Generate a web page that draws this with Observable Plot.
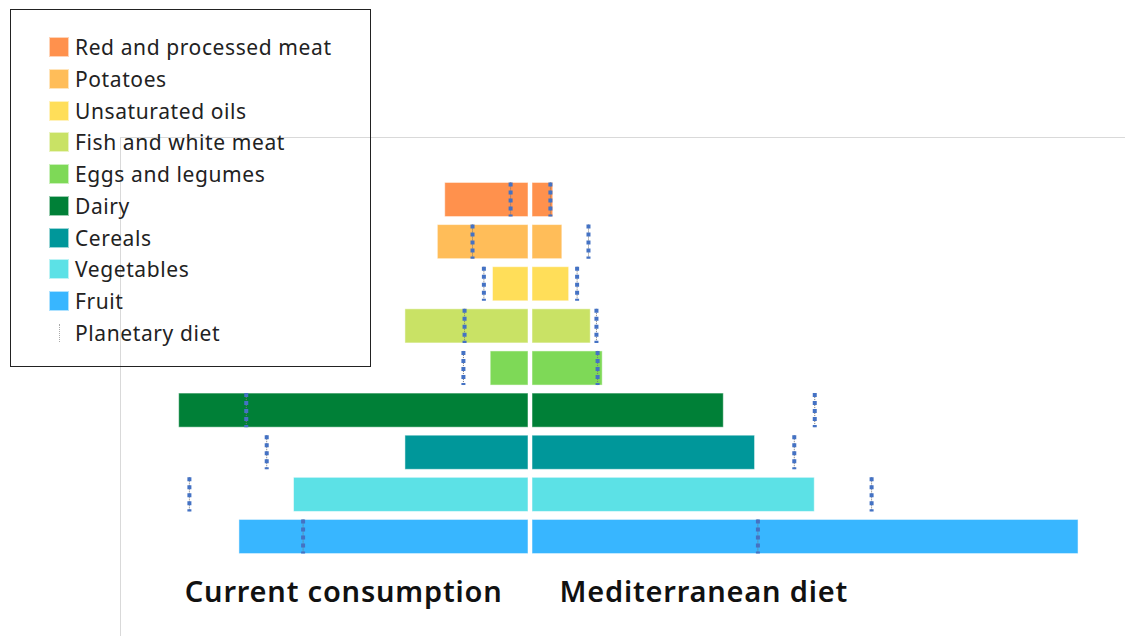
<!DOCTYPE html>
<html>
<head>
<meta charset="utf-8">
<script src="https://cdn.jsdelivr.net/npm/d3@7"></script>
<script src="https://cdn.jsdelivr.net/npm/@observablehq/plot@0.6"></script>
<style>
  html, body { margin: 0; padding: 0; background: #fff; }
  #wrap { position: relative; width: 1125px; height: 636px; overflow: hidden; font-family: "Noto Sans", sans-serif; }
  #chart { position: absolute; left: 0; top: 0; }
  #legend { position: absolute; left: 10px; top: 9px; width: 359px; height: 356px; border: 1.5px solid #222; box-sizing: content-box; }
  .item { position: absolute; left: 0; height: 22px; font-size: 21px; letter-spacing: 0.6px; color: #222; white-space: nowrap; }
  .sw { position: absolute; left: 38px; width: 20px; height: 20px; box-sizing: border-box; border: 1px solid rgba(255,255,255,0.6); }
  .lab { position: absolute; left: 64px; top: -2px; line-height: 26px; }
  .pl { position: absolute; left: 48px; width: 0; height: 18px; border-left: 1.5px dotted #aaa; }
</style>
</head>
<body>
<div id="wrap">
  <div id="chart"></div>
  <div id="legend"></div>
</div>
<script>
// ---- data (grams per day) ----
const categories = ["Red and processed meat", "Potatoes", "Unsaturated oils", "Fish and white meat", "Eggs and legumes", "Dairy", "Cereals", "Vegetables", "Fruit"];
const current = [75, 81.5, 33, 110, 35, 309, 110, 208, 256];
const mediterranean = [20, 28, 34, 53, 63.5, 170, 197.5, 250, 482];
const planetary = [17.5, 51, 41, 58, 59, 250, 232, 300, 200];
const colors = ["#FF914D", "#FFBD59", "#FFDE59", "#C9E265", "#7ED957", "#008037", "#00979A", "#5CE1E6", "#38B6FF"];
const sideLabels = ["Current consumption", "Mediterranean diet"];
const planetaryLabel = "Planetary diet";

// ---- layout ----
const pxPerUnit = 1.137;      // horizontal scale
const centerPx = 530;         // x of zero
const W = 1125, H = 636, mL = 120, mT = 137;
const rowPitch = 42.125, row0 = 199.5, half = 0.405;
const xMin = -(centerPx - mL) / pxPerUnit, xMax = (W - centerPx) / pxPerUnit;
const yTop = -(row0 - mT) / rowPitch, yBottom = (H - row0) / rowPitch;

const rows = categories.map((c, i) => ({cat: c, i, cur: current[i], med: mediterranean[i], plan: planetary[i], color: colors[i]}));
const markers = rows.flatMap(d => [{i: d.i, x: -d.plan}, {i: d.i, x: d.plan}]);
const labelRow = 9.33;
const leftLabel = [{text: sideLabels[0], x: -(centerPx - 502) / pxPerUnit}];
const rightLabel = [{text: sideLabels[1], x: (559 - centerPx) / pxPerUnit}];

const chart = Plot.plot({
  width: W, height: H,
  marginLeft: mL, marginRight: 0, marginTop: mT, marginBottom: 0,
  x: {domain: [xMin, xMax], axis: null},
  y: {domain: [yBottom, yTop], axis: null},
  style: {background: "transparent", fontFamily: "Noto Sans, sans-serif", letterSpacing: "0.8px"},
  marks: [
    Plot.ruleY([yTop], {stroke: "#d9d9d9", strokeWidth: 1}),
    Plot.ruleX([xMin], {stroke: "#d9d9d9", strokeWidth: 1}),
    Plot.rect(rows, {x1: d => -d.cur, x2: d => 0, y1: d => d.i - half, y2: d => d.i + half, fill: d => d.color, insetRight: 2, stroke: "#fff", strokeOpacity: 0.5, strokeWidth: 1}),
    Plot.rect(rows, {x1: d => 0, x2: d => d.med, y1: d => d.i - half, y2: d => d.i + half, fill: d => d.color, insetLeft: 2, stroke: "#fff", strokeOpacity: 0.5, strokeWidth: 1}),
    Plot.ruleX(markers, {x: "x", y1: d => d.i - half, y2: d => d.i + half, stroke: "#777", strokeWidth: 1, strokeDasharray: "1,1"}),
    Plot.ruleX(markers, {x: "x", y1: d => d.i - half, y2: d => d.i + half, stroke: "#4472C4", strokeWidth: 4, strokeDasharray: "4,4"}),
    Plot.text(leftLabel, {x: "x", y: () => labelRow, text: "text", textAnchor: "end", fontSize: 29, fontWeight: 600, fill: "#111", lineAnchor: "middle"}),
    Plot.text(rightLabel, {x: "x", y: () => labelRow, text: "text", textAnchor: "start", fontSize: 29, fontWeight: 600, fill: "#111", lineAnchor: "middle"})
  ]
});
document.getElementById("chart").appendChild(chart);

// ---- legend ----
const legend = document.getElementById("legend");
const legendItems = categories.map((c, i) => ({label: c, color: colors[i]})).concat([{label: planetaryLabel, color: null}]);
legendItems.forEach((it, k) => {
  const div = document.createElement("div");
  div.className = "item";
  div.style.top = (37 - 11 + k * 31.75) + "px";
  div.style.width = "100%";
  if (it.color) {
    const sw = document.createElement("div");
    sw.className = "sw";
    sw.style.background = it.color;
    sw.style.top = "1px";
    div.appendChild(sw);
  } else {
    const pl = document.createElement("div");
    pl.className = "pl";
    pl.style.top = "2px";
    div.appendChild(pl);
  }
  const lab = document.createElement("span");
  lab.className = "lab";
  lab.textContent = it.label;
  div.appendChild(lab);
  legend.appendChild(div);
});
</script>
</body>
</html>
